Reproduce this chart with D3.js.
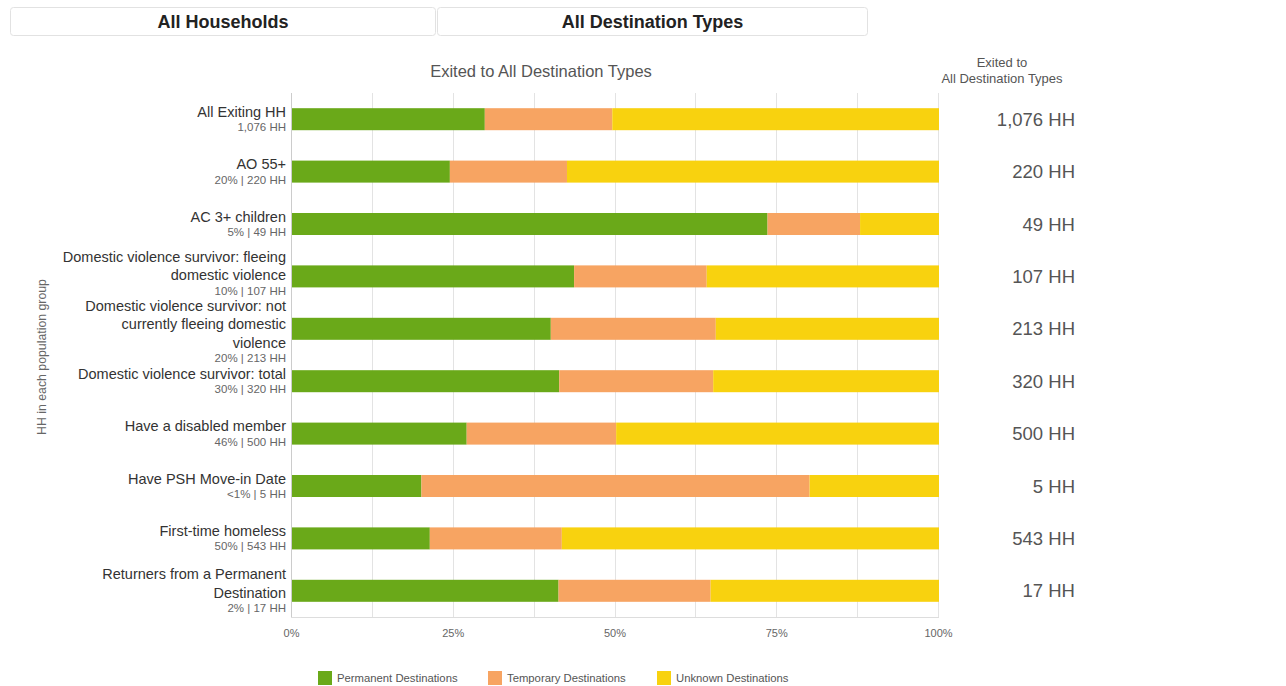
<!DOCTYPE html>
<html>
<head>
<meta charset="utf-8">
<script src="https://cdn.jsdelivr.net/npm/d3@7/dist/d3.min.js"></script>
<style>
  html, body { margin: 0; padding: 0; background: #fff; }
  body { width: 1286px; height: 686px; overflow: hidden; font-family: "Liberation Sans", Arial, sans-serif; }
</style>
</head>
<body>
<svg id="chart" width="1286" height="686"></svg>
<script>
// ---- data ----
const categories = [
  "All Exiting HH",
  "AO 55+",
  "AC 3+ children",
  "Domestic violence survivor: fleeing domestic violence",
  "Domestic violence survivor: not currently fleeing domestic violence",
  "Domestic violence survivor: total",
  "Have a disabled member",
  "Have PSH Move-in Date",
  "First-time homeless",
  "Returners from a Permanent Destination"
];
const labelLines = [
  ["All Exiting HH"],
  ["AO 55+"],
  ["AC 3+ children"],
  ["Domestic violence survivor: fleeing", "domestic violence"],
  ["Domestic violence survivor: not", "currently fleeing domestic", "violence"],
  ["Domestic violence survivor: total"],
  ["Have a disabled member"],
  ["Have PSH Move-in Date"],
  ["First-time homeless"],
  ["Returners from a Permanent", "Destination"]
];
const subLabels = ["1,076 HH", "20% | 220 HH", "5% | 49 HH", "10% | 107 HH", "20% | 213 HH",
  "30% | 320 HH", "46% | 500 HH", "<1% | 5 HH", "50% | 543 HH", "2% | 17 HH"];
const totals = ["1,076 HH", "220 HH", "49 HH", "107 HH", "213 HH", "320 HH", "500 HH", "5 HH", "543 HH", "17 HH"];
const seriesNames = ["Permanent Destinations", "Temporary Destinations", "Unknown Destinations"];
const permanent = [29.8, 24.4, 73.5, 43.6, 40.0, 41.3, 27.0, 20.0, 21.3, 41.2];
const temporary = [19.7, 18.1, 14.3, 20.5, 25.5, 23.8, 23.1, 60.0, 20.4, 23.5];
const unknown   = [50.5, 57.5, 12.2, 35.9, 34.5, 34.9, 49.9, 20.0, 58.3, 35.3];
const xTicks = [0, 25, 50, 75, 100];
const colors = ["#6aa919", "#f7a462", "#f8d20f"];

// ---- layout ----
const svg = d3.select("#chart");
const plotL = 291, plotR = 938, plotT = 93, plotB = 617;

const x = d3.scaleLinear().domain([0, 100]).range([plotL, plotR]);
const y = d3.scaleBand().domain(categories).range([plotT, plotB]).paddingInner(0.58).paddingOuter(0.29);

// header boxes
const headers = [{t: "All Households", x0: 10, x1: 436}, {t: "All Destination Types", x0: 437, x1: 868}];
headers.forEach(h => {
  svg.append("rect").attr("x", h.x0 + 0.5).attr("y", 7.5).attr("width", h.x1 - h.x0 - 1).attr("height", 28)
    .attr("rx", 3).attr("fill", "#fff").attr("stroke", "#e2e2e2");
  svg.append("text").attr("x", (h.x0 + h.x1) / 2).attr("y", 27.5).attr("text-anchor", "middle")
    .attr("font-size", 18).attr("font-weight", "bold").attr("fill", "#222").text(h.t);
});

// title
svg.append("text").attr("x", 541).attr("y", 77).attr("text-anchor", "middle")
  .attr("font-size", 16.5).attr("fill", "#555").text("Exited to All Destination Types");

// right header
svg.append("text").attr("x", 1002).attr("y", 67).attr("text-anchor", "middle")
  .attr("font-size", 13).attr("fill", "#555").text("Exited to");
svg.append("text").attr("x", 1002).attr("y", 83).attr("text-anchor", "middle")
  .attr("font-size", 13).attr("fill", "#555").text("All Destination Types");

// grid
const gridVals = d3.range(0, 100.1, 12.5);
svg.append("g").selectAll("line").data(gridVals).join("line")
  .attr("x1", d => Math.round(x(d)) + 0.5).attr("x2", d => Math.round(x(d)) + 0.5)
  .attr("y1", plotT).attr("y2", plotB)
  .attr("stroke", d => d === 0 ? "#cccccc" : "#e3e3e3").attr("stroke-width", 1);
svg.append("line").attr("x1", plotL).attr("x2", plotR + 1).attr("y1", plotB + 0.5).attr("y2", plotB + 0.5)
  .attr("stroke", "#dddddd");

// x axis
const xAxis = d3.axisBottom(x).tickValues(xTicks).tickFormat(d => d + "%").tickSize(0).tickPadding(12);
const gx = svg.append("g").attr("transform", `translate(0,${plotB})`).call(xAxis);
gx.select(".domain").remove();
gx.selectAll("text").attr("font-size", 11).attr("fill", "#666").attr("font-family", "Liberation Sans, Arial, sans-serif");

// stacked bars
const rows = categories.map((c, i) => ({cat: c, Permanent: permanent[i], Temporary: temporary[i], Unknown: unknown[i]}));
const stack = d3.stack().keys(["Permanent", "Temporary", "Unknown"]);
const stacked = stack(rows);
svg.append("g").selectAll("g").data(stacked).join("g")
  .attr("fill", (d, i) => colors[i])
  .selectAll("rect").data(d => d).join("rect")
  .attr("x", d => x(d[0]) + 1)
  .attr("width", d => Math.max(0, x(d[1]) - x(d[0])))
  .attr("y", d => y(d.data.cat))
  .attr("height", y.bandwidth());

// y labels: compute blocks, resolve collisions, draw
const lineH = 18.5, subGap = 15.5, mainFs = 14.5, subFs = 11.5;
const blocks = categories.map((c, i) => {
  const n = labelLines[i].length;
  const cy = y(c) + y.bandwidth() / 2;
  const c0 = cy - ((n - 1) * lineH + subGap) / 2;
  return {i, n, cy, c0};
});
const blkTop = b => b.c0 + 5.3 - 0.9 * mainFs;
const blkBot = b => b.c0 + (b.n - 1) * lineH + subGap + 4.2 + 0.21 * subFs;
for (let k = 1; k < blocks.length; k++) {
  const ov = blkBot(blocks[k - 1]) - blkTop(blocks[k]) + 0.5;
  if (ov > 0) { blocks[k - 1].c0 -= ov / 2; blocks[k].c0 += ov / 2; }
}
const lab = svg.append("g");
blocks.forEach(b => {
  labelLines[b.i].forEach((ln, j) => {
    lab.append("text").attr("x", 286).attr("y", b.c0 + lineH * j + 5.3).attr("text-anchor", "end")
      .attr("font-size", mainFs).attr("fill", "#333").text(ln);
  });
  lab.append("text").attr("x", 286).attr("y", b.c0 + (b.n - 1) * lineH + subGap + 4.2).attr("text-anchor", "end")
    .attr("font-size", subFs).attr("fill", "#666").text(subLabels[b.i]);
  svg.append("text").attr("x", 1075).attr("y", b.cy + 6.5).attr("text-anchor", "end")
    .attr("font-size", 18.5).attr("fill", "#555").text(totals[b.i]);
});

// y axis title
svg.append("text").attr("transform", "translate(46,357) rotate(-90)").attr("text-anchor", "middle")
  .attr("font-size", 12.3).attr("fill", "#666").text("HH in each population group");

// legend
const legX = [318, 488, 657];
seriesNames.forEach((s, i) => {
  svg.append("rect").attr("x", legX[i]).attr("y", 671).attr("width", 14).attr("height", 14).attr("fill", colors[i]);
  svg.append("text").attr("x", legX[i] + 19).attr("y", 682).attr("font-size", 11.3).attr("fill", "#555").text(s);
});
</script>
</body>
</html>
